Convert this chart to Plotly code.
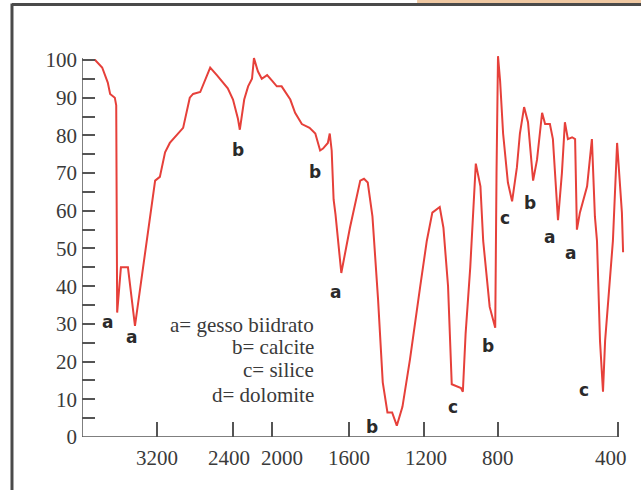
import numpy as np
import plotly.graph_objects as go

# IR spectrum: wavenumber (cm-1) vs transmittance (%)
wavenumber = [3990, 3860, 3785, 3725, 3700, 3650, 3635, 3625, 3585, 3510, 3435,
              3315, 3255, 3220, 3170, 3115, 3065, 2980, 2925, 2855, 2820, 2745,
              2695, 2640, 2570, 2505, 2455, 2400, 2350, 2330, 2285, 2245, 2205,
              2185, 2145, 2105, 2050, 2000, 1975, 1950, 1905, 1880, 1845, 1805,
              1775, 1750, 1735, 1710, 1700, 1690, 1680, 1670, 1640, 1595, 1540,
              1520, 1500, 1475, 1445, 1420, 1395, 1370, 1345, 1315, 1275, 1220,
              1185, 1155, 1115, 1095, 1070, 1050, 1020, 1000, 990, 975, 950,
              935, 920, 895, 880, 845, 815, 808, 800, 793, 783, 767, 753, 737,
              727, 713, 700, 683, 670, 653, 643, 627, 617, 600, 587, 577, 567,
              553, 543, 537, 527, 503, 487, 477, 470, 460, 450, 443, 427, 417,
              403, 387, 383]
transmittance = [100, 100, 98, 94, 91, 90, 88, 33, 45, 45, 29.5,
                 51, 63, 68, 69, 75.5, 78, 80.5, 82, 90, 91, 91.5,
                 94.5, 98, 96, 94, 92.5, 89.5, 84.5, 81.5, 89.5, 93, 95,
                 100.5, 97, 95, 96, 94.5, 93, 93, 89.5, 86, 83, 82,
                 80.5, 76, 76.5, 78, 80.5, 76, 63, 59, 43.5, 55.5, 68,
                 68.5, 67.5, 58.5, 36.5, 14.5, 6.5, 6.5, 3, 8, 20.5, 40,
                 52, 59.5, 61, 55.5, 40, 14, 13.5, 13, 12, 27.5, 45,
                 60, 72.5, 66.5, 52, 34.5, 29, 70, 101, 94.5, 80.5, 67.5, 62.5, 71.5,
                 80.5, 87.5, 83.5, 68, 73.5, 86, 83, 83, 79, 57.5, 70, 83.5, 79,
                 79.5, 79, 55, 59.5, 66.5, 79, 58.5, 52, 25.5, 12, 25.5, 43.5, 52,
                 78, 59.5, 49]

# band assignments: letter, wavenumber, transmittance
band_letters = ["a", "a", "b", "b", "a", "b", "c", "b", "c", "b", "a", "a", "c"]
band_wn = [3733, 3477, 2349, 1777, 1668, 1477, 1043, 854, 777, 693, 630, 557, 513]
band_t = [30.5, 26.5, 76.1, 70.3, 38.5, 2.7, 8, 24.1, 58.1, 62.1, 53, 48.8, 12.5]

legend_lines = ["a= gesso biidrato", "b= calcite", "c= silice", "d= dolomite"]

x_tick_values = [3200, 2400, 2000, 1600, 1200, 800, 400]
# small horizontal nudges (px) so the crowded labels do not collide
x_label_nudge = [0, -4, 10, 0, 2, 0, -7]
y_tick_values = list(range(0, 101, 10))

# piecewise-linear wavenumber scale (the chart changes scale along the axis)
scale_wn = [300, 400, 800, 1200, 1600, 2000, 2400, 3200, 4000]
scale_u = [648, 618, 498, 424, 349, 272, 233, 157, 82]


def to_axis(wn):
    return np.interp(np.asarray(wn, dtype=float), scale_wn, scale_u)


RED = "#e6403a"
AXIS = "#555555"
TEXT = "#3a3a3a"
SERIF = "Liberation Serif, Times New Roman, serif"

fig = go.Figure()
fig.add_trace(go.Scatter(
    x=to_axis(wavenumber), y=transmittance, mode="lines",
    line=dict(color=RED, width=2), hoverinfo="skip", showlegend=False,
))

annotations = []
for letter, wn, t in zip(band_letters, band_wn, band_t):
    annotations.append(dict(
        x=float(to_axis(wn)), y=t, xref="x", yref="y", text=letter,
        showarrow=False, xanchor="center", yanchor="middle",
        font=dict(family="DejaVu Sans, sans-serif", size=17, color="#2a2a2a",
                  weight="bold"),
    ))

legend_y = [0.282, 0.227, 0.169, 0.106]
for line, ly in zip(legend_lines, legend_y):
    annotations.append(dict(
        x=0.43, y=ly, xref="paper", yref="paper", text=line,
        showarrow=False, xanchor="right", yanchor="middle",
        font=dict(family=SERIF, size=21, color=TEXT),
    ))

# x tick labels
for v, nudge in zip(x_tick_values, x_label_nudge):
    annotations.append(dict(
        x=float(to_axis(v)), y=0, xref="x", yref="y", text=str(v),
        showarrow=False, xanchor="center", yanchor="middle",
        xshift=nudge, yshift=-21,
        font=dict(family=SERIF, size=21, color=TEXT),
    ))

x_left, x_right = float(to_axis(4000)), float(to_axis(400))
shapes = [
    # axis lines
    dict(type="line", xref="x", yref="y", x0=x_left, x1=x_right, y0=0, y1=0,
         line=dict(color=AXIS, width=1.5)),
    dict(type="line", xref="x", yref="y", x0=x_left, x1=x_left, y0=0, y1=100.5,
         line=dict(color=AXIS, width=1.5)),
    # frame around the figure
    dict(type="rect", xref="paper", yref="paper", x0=0.616, x1=1.04,
         y0=1.0907, y1=1.11, fillcolor="#efc8a2", line=dict(width=0), layer="below"),
    dict(type="line", xref="paper", yref="paper", x0=-0.1287, x1=1.04,
         y0=1.0895, y1=1.0895, line=dict(color="#4a4a4a", width=3)),
    dict(type="line", xref="paper", yref="paper", x0=-0.1287, x1=-0.1287,
         y0=1.092, y1=-0.14, line=dict(color="#4a4a4a", width=3)),
]

fig.update_layout(
    width=641, height=490,
    margin=dict(l=82, r=15, t=40, b=53),
    paper_bgcolor="white", plot_bgcolor="white",
    showlegend=False,
    annotations=annotations,
    shapes=shapes,
    xaxis=dict(
        range=[82, 626], showgrid=False, zeroline=False, showline=False,
        tickmode="array", tickvals=list(to_axis(x_tick_values)),
        showticklabels=False,
        ticks="inside", ticklen=15, tickwidth=1.5, tickcolor=AXIS,
    ),
    yaxis=dict(
        range=[0, 105.3], showgrid=False, zeroline=False, showline=False,
        tickmode="array", tickvals=y_tick_values,
        ticktext=[str(v) for v in y_tick_values],
        ticks="inside", ticklen=13, tickwidth=1.5, tickcolor=AXIS,
        minor=dict(tickvals=list(range(5, 100, 10)), ticks="inside", ticklen=13,
                   tickwidth=1.5, tickcolor=AXIS),
        tickfont=dict(family=SERIF, size=21, color=TEXT),
        ticklabelstandoff=4,
    ),
)

fig.write_html("out.html")
